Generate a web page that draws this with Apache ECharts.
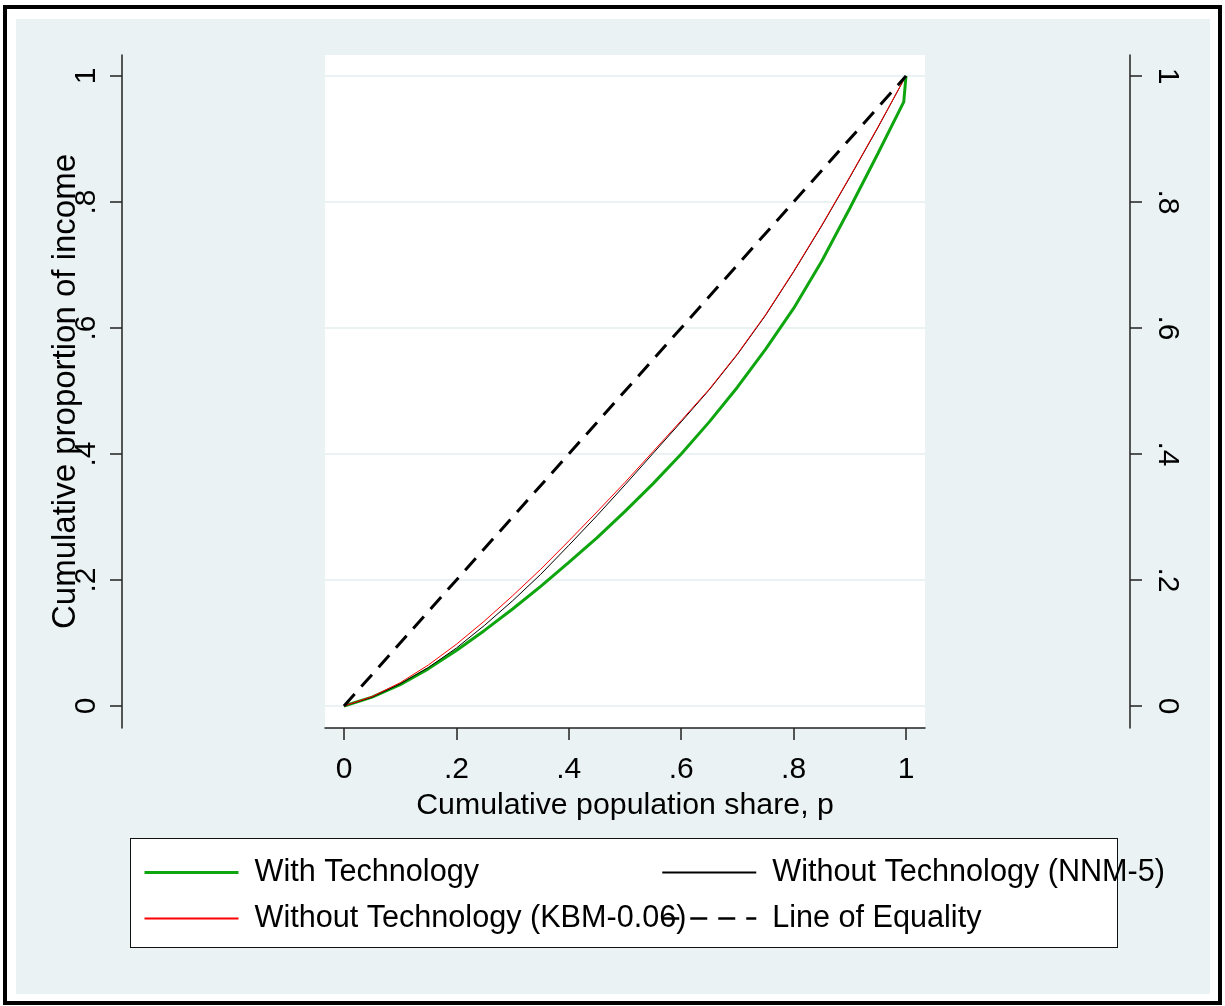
<!DOCTYPE html>
<html>
<head>
<meta charset="utf-8">
<script src="https://cdn.jsdelivr.net/npm/echarts@6/dist/echarts.min.js"></script>
<style>
  html, body { margin:0; padding:0; background:#fff; }
  #frame { position:absolute; left:3px; top:5px; width:1211px; height:992px; border:4px solid #000; }
  #bg { position:absolute; left:16px; top:19px; width:1194px; height:975px; background:#EAF2F3; }
  #legbox { position:absolute; left:130px; top:838px; width:986px; height:108px; border:1.5px solid #111; background:#fff; }
  #chart { position:absolute; left:0; top:0; width:1225px; height:1006px; }
</style>
</head>
<body>
<div id="frame"></div>
<div id="bg"></div>
<div id="legbox"></div>
<div id="chart"></div>
<script>
// Cumulative population share (x)
const popShare = [0, 0.05, 0.1, 0.15, 0.2, 0.25, 0.3, 0.35, 0.4, 0.45, 0.5, 0.55, 0.6, 0.65, 0.7, 0.75, 0.8, 0.85, 0.9, 0.95, 0.996, 1];
// Cumulative proportion of income (y)
const withTech = [0, 0.014, 0.034, 0.059, 0.088, 0.120, 0.154, 0.190, 0.228, 0.267, 0.309, 0.353, 0.400, 0.451, 0.506, 0.566, 0.631, 0.706, 0.790, 0.877, 0.959, 1];
const withoutNNM = [0, 0.014, 0.035, 0.061, 0.092, 0.128, 0.167, 0.209, 0.255, 0.302, 0.351, 0.401, 0.451, 0.502, 0.558, 0.620, 0.689, 0.762, 0.839, 0.918, 0.994, 1];
const withoutKBM = [0, 0.015, 0.037, 0.065, 0.098, 0.135, 0.175, 0.217, 0.262, 0.308, 0.355, 0.404, 0.453, 0.503, 0.559, 0.621, 0.690, 0.763, 0.840, 0.919, 0.994, 1];
const equalityX = [0, 1];
const equalityY = [0, 1];

const tickValues = [0, 0.2, 0.4, 0.6, 0.8, 1];
const tickLabels = ['0', '.2', '.4', '.6', '.8', '1'];

const seriesNames = ['With Technology', 'Without Technology (NNM-5)', 'Without Technology (KBM-0.06)', 'Line of Equality'];

const FONT = "'Liberation Sans', Arial, sans-serif";
const fmt = v => {
  const i = tickValues.findIndex(t => Math.abs(t - v) < 1e-9);
  return i >= 0 ? tickLabels[i] : '';
};
const pairs = (xs, ys) => xs.map((x, i) => [x, ys[i]]);

const chart = echarts.init(document.getElementById('chart'), null, { renderer: 'canvas' });

const GREEN = '#0FA50F';
const axisLineStyle = { color: '#222', width: 1.5 };
const yCommon = {
  type: 'value', min: -0.0349, max: 1.0333,
  axisLine: { show: true, onZero: false, lineStyle: axisLineStyle },
  axisTick: { show: true, length: 12, customValues: tickValues, lineStyle: axisLineStyle },
};
const legendCommon = {
  orient: 'vertical', top: 857, padding: 0,
  itemWidth: 94, itemHeight: 14, itemGap: 15, selectedMode: false,
  itemStyle: { opacity: 0, borderWidth: 0 },
  textStyle: { fontSize: 30.6, color: '#000', lineHeight: 30, fontFamily: FONT, padding: [0, 0, 0, 11] }
};

chart.setOption({
  animation: false,
  backgroundColor: 'transparent',
  textStyle: { fontFamily: FONT },
  grid: {
    left: 325, top: 55, width: 600, height: 673,
    show: true, backgroundColor: '#ffffff', borderWidth: 0
  },
  xAxis: {
    type: 'value', min: -0.0338, max: 1.0338,
    axisLine: { show: true, onZero: false, lineStyle: axisLineStyle },
    axisTick: { show: true, length: 12, customValues: tickValues, lineStyle: axisLineStyle },
    axisLabel: { customValues: tickValues, formatter: fmt, fontSize: 30, color: '#000', margin: 27, fontFamily: FONT },
    splitLine: { show: false },
    name: 'Cumulative population share, p', nameLocation: 'middle', nameGap: 63, nameMoveOverlap: false,
    nameTextStyle: { fontSize: 30.3, color: '#000', fontFamily: FONT }
  },
  yAxis: [
    Object.assign({}, yCommon, {
      position: 'left', offset: 203,
      axisLabel: { customValues: tickValues, formatter: fmt, rotate: 90, fontSize: 30, color: '#000', margin: 20, fontFamily: FONT },
      splitLine: { show: true, lineStyle: { color: '#EAF2F3', width: 2 } },
      name: 'Cumulative proportion of income', nameLocation: 'middle', nameGap: 40, nameMoveOverlap: false,
      nameTextStyle: { fontSize: 33, color: '#000', fontFamily: FONT }
    }),
    Object.assign({}, yCommon, {
      position: 'right', offset: 205,
      axisLabel: { customValues: tickValues, formatter: fmt, rotate: -90, fontSize: 30, color: '#000', margin: 22, fontFamily: FONT },
      splitLine: { show: false }
    })
  ],
  legend: [
    Object.assign({}, legendCommon, {
      data: [{ name: seriesNames[0], lineStyle: { width: 3, color: GREEN } }, seriesNames[2]], left: 143 }),
    Object.assign({}, legendCommon, {
      data: [seriesNames[1], { name: seriesNames[3], lineStyle: { width: 2.5, type: [17, 11] } }], left: 661 })
  ],
  series: [
    { name: seriesNames[0], type: 'line', data: pairs(popShare, withTech), symbol: 'none', showSymbol: false,
      lineStyle: { color: GREEN, width: 3 }, itemStyle: { color: GREEN }, z: 2 },
    { name: seriesNames[1], type: 'line', data: pairs(popShare, withoutNNM), symbol: 'none', showSymbol: false,
      lineStyle: { color: '#000', width: 1 }, itemStyle: { color: '#000' }, z: 3 },
    { name: seriesNames[2], type: 'line', data: pairs(popShare, withoutKBM), symbol: 'none', showSymbol: false,
      lineStyle: { color: '#FF0000', width: 1 }, itemStyle: { color: '#FF0000' }, z: 4 },
    { name: seriesNames[3], type: 'line', data: pairs(equalityX, equalityY), symbol: 'none', showSymbol: false,
      lineStyle: { color: '#000', width: 3, type: [16, 10] }, itemStyle: { color: '#000' }, z: 5 }
  ]
});
</script>
</body>
</html>
